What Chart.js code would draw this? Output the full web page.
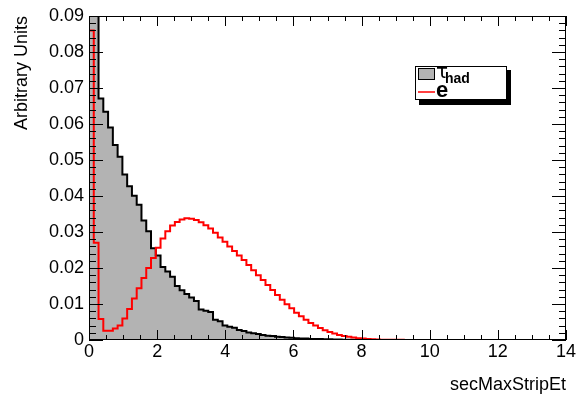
<!DOCTYPE html>
<html>
<head>
<meta charset="utf-8">
<script src="https://cdn.jsdelivr.net/npm/chart.js"></script>
<style>
  html, body { margin: 0; padding: 0; background: #fff; }
  canvas { display: block; }
</style>
</head>
<body>
<canvas id="c" width="578" height="396"></canvas>
<script>
// ---- data ----
const xMin = 0;
const xMax = 14;
const yMin = 0;
const yMax = 0.09;
const xTickStep = 2;
const yTickStep = 0.01;
const xTitle = 'secMaxStripEt';
const yTitle = 'Arbitrary Units';
const seriesLabels = ['τ_had', 'e'];

// tau_had histogram, 100 bins from 0 to 14 (first two bins run off the top)
const tauHad = [
  0.130, 0.095, 0.0671, 0.0634, 0.0590, 0.0542, 0.0509, 0.0460, 0.0427, 0.0401,
  0.0376, 0.0332, 0.0302, 0.0255, 0.0235, 0.0203, 0.0190, 0.0176, 0.0150, 0.0138,
  0.0128, 0.0118, 0.0108, 0.0085, 0.0081, 0.0078, 0.0056, 0.0052, 0.0040, 0.0037,
  0.0034, 0.0028, 0.0025, 0.0021, 0.0019, 0.0017, 0.0014, 0.0012, 0.0011, 0.0009,
  0.0008, 0.0007, 0.0006, 0.0005, 0.0004, 0.0004, 0.0003, 0.0003, 0.00025, 0.0002,
  0.0002, 0.00015, 0.00012, 0.0001, 0.0001, 0.00008, 0.00006, 0.00005, 0.00004, 0.00003,
  0.00002, 0.00002, 0.00001, 0.00001, 0, 0, 0, 0, 0, 0,
  0, 0, 0, 0, 0, 0, 0, 0, 0, 0,
  0, 0, 0, 0, 0, 0, 0, 0, 0, 0,
  0, 0, 0, 0, 0, 0, 0, 0, 0, 0
];

// electron histogram, same binning
const electron = [
  0.086, 0.027, 0.0058, 0.0026, 0.0026, 0.0032, 0.0040, 0.0060, 0.0086, 0.0115,
  0.0144, 0.0172, 0.0200, 0.0228, 0.0256, 0.0282, 0.0302, 0.0318, 0.0328, 0.0335,
  0.0338, 0.0337, 0.0333, 0.0327, 0.0319, 0.0310, 0.0298, 0.0285, 0.0273, 0.0260,
  0.0247, 0.0235, 0.0222, 0.0208, 0.0194, 0.0180, 0.0167, 0.0153, 0.0139, 0.0125,
  0.0112, 0.0099, 0.0088, 0.0076, 0.0066, 0.0056, 0.0047, 0.0040, 0.0033, 0.0027,
  0.0022, 0.0018, 0.0014, 0.0011, 0.0009, 0.0007, 0.0005, 0.0004, 0.0003, 0.0002,
  0.00015, 0.0001, 0.00008, 0.00006, 0.00005, 0.00004, 0.00003, 0.00002, 0.00002, 0.00001,
  0.00001, 0.00001, 0, 0, 0, 0, 0, 0, 0, 0,
  0, 0, 0, 0, 0, 0, 0, 0, 0, 0,
  0, 0, 0, 0, 0, 0, 0, 0, 0, 0
];

// ---- build step-histogram points from the bin contents ----
function histPoints(values) {
  const w = (xMax - xMin) / values.length;
  const pts = [{ x: xMin, y: 0 }];
  values.forEach((v, i) => pts.push({ x: xMin + i * w, y: v }));
  pts.push({ x: xMax, y: values[values.length - 1] });
  return pts;
}

const FONT = "'Liberation Sans', Arial, Helvetica, sans-serif";
Chart.defaults.font.family = FONT;
Chart.defaults.color = '#000';

// inward ticks on all four sides + frame (ROOT style), and the boxed legend
const frameTicks = {
  id: 'frameTicks',
  afterDatasetsDraw(chart) {
    const { ctx, chartArea: a, scales: { x, y } } = chart;
    ctx.save();
    ctx.strokeStyle = '#000';
    ctx.lineWidth = 1;
    ctx.beginPath();
    const nx = Math.round((xMax - xMin) / (xTickStep / 4));
    for (let i = 0; i <= nx; i++) {
      const v = xMin + i * xTickStep / 4;
      const px = Math.round(x.getPixelForValue(v)) + 0.5;
      const len = (i % 4 === 0) ? 10 : 5;
      ctx.moveTo(px, a.bottom); ctx.lineTo(px, a.bottom - len);
      ctx.moveTo(px, a.top); ctx.lineTo(px, a.top + len);
    }
    const ny = Math.round((yMax - yMin) / (yTickStep / 5));
    for (let i = 0; i <= ny; i++) {
      const v = yMin + i * yTickStep / 5;
      const py = Math.round(y.getPixelForValue(v)) + 0.5;
      const len = (i % 5 === 0) ? 14 : 7;
      ctx.moveTo(a.left, py); ctx.lineTo(a.left + len, py);
      ctx.moveTo(a.right, py); ctx.lineTo(a.right - len, py);
    }
    ctx.stroke();
    ctx.strokeRect(a.left + 0.5, a.top + 0.5, a.right - a.left - 1, a.bottom - a.top - 1);
    ctx.restore();
  },
  afterDraw(chart) {
    const { ctx, chartArea: a } = chart;
    const bx = a.left + 326, by = a.top + 50, bw = 92, bh = 34;
    ctx.save();
    // shadow
    ctx.fillStyle = '#000';
    ctx.fillRect(bx + 4, by + 4, bw, bh + 1);
    // box
    ctx.fillStyle = '#fff';
    ctx.fillRect(bx, by, bw, bh);
    ctx.strokeStyle = '#000';
    ctx.lineWidth = 1;
    ctx.strokeRect(bx + 0.5, by + 0.5, bw - 1, bh - 1);
    // entry 1: filled square
    const ds0 = chart.data.datasets[0];
    ctx.fillStyle = ds0.backgroundColor;
    ctx.fillRect(bx + 3, by + 2, 17, 12);
    ctx.strokeRect(bx + 3.5, by + 2.5, 16, 11);
    const [base, sub] = seriesLabels[0].split('_');
    ctx.fillStyle = '#000';
    ctx.textBaseline = 'alphabetic';
    ctx.textAlign = 'left';
    ctx.font = "20px 'DejaVu Sans', " + FONT;
    ctx.fillText(base, bx + 21, by + 12);
    ctx.font = "bold 14px " + FONT;
    ctx.fillText(sub, bx + 30, by + 17);
    // entry 2: red line
    const ds1 = chart.data.datasets[1];
    ctx.strokeStyle = ds1.borderColor;
    ctx.lineWidth = 1.5;
    ctx.beginPath();
    ctx.moveTo(bx + 3, by + 26); ctx.lineTo(bx + 20, by + 26);
    ctx.stroke();
    ctx.fillStyle = '#000';
    ctx.font = "bold 22px " + FONT;
    ctx.fillText(seriesLabels[1], bx + 21, by + 31);
    ctx.restore();
  }
};

new Chart(document.getElementById('c'), {
  type: 'line',
  data: {
    datasets: [
      {
        label: seriesLabels[0],
        data: histPoints(tauHad),
        stepped: true,
        order: 2,
        borderColor: '#000',
        borderWidth: 2,
        backgroundColor: '#b3b3b3',
        fill: 'origin',
        pointRadius: 0,
        tension: 0
      },
      {
        label: seriesLabels[1],
        data: histPoints(electron),
        stepped: true,
        order: 1,
        borderColor: '#ff0000',
        borderWidth: 2,
        fill: false,
        pointRadius: 0,
        tension: 0
      }
    ]
  },
  options: {
    responsive: false,
    animation: false,
    events: [],
    layout: { padding: { left: 0, right: 12, top: 16, bottom: 0 } },
    plugins: { legend: { display: false }, tooltip: { enabled: false } },
    scales: {
      x: {
        type: 'linear',
        min: xMin, max: xMax,
        grid: { display: false, drawTicks: false },
        border: { display: false },
        ticks: {
          stepSize: xTickStep,
          padding: 1,
          maxRotation: 0,
          font: { size: 18, family: FONT },
          color: '#000'
        },
        title: {
          display: true, text: xTitle, align: 'end',
          font: { size: 18, family: FONT }, color: '#000',
          padding: { top: 0, bottom: 0 }
        },
        afterFit(scale) { scale.height = 56; }
      },
      y: {
        type: 'linear',
        min: yMin, max: yMax,
        grid: { display: false, drawTicks: false },
        border: { display: false },
        ticks: {
          stepSize: yTickStep,
          padding: 5,
          font: { size: 18, family: FONT },
          color: '#000',
          callback: (v) => (Math.abs(v) < 1e-12 ? '0' : v.toFixed(2))
        },
        title: {
          display: true, text: yTitle, align: 'end',
          font: { size: 18, family: FONT }, color: '#000',
          padding: { top: 11, bottom: 0 }
        },
        afterFit(scale) { scale.width = 89; }
      }
    }
  },
  plugins: [frameTicks]
});
</script>
</body>
</html>
